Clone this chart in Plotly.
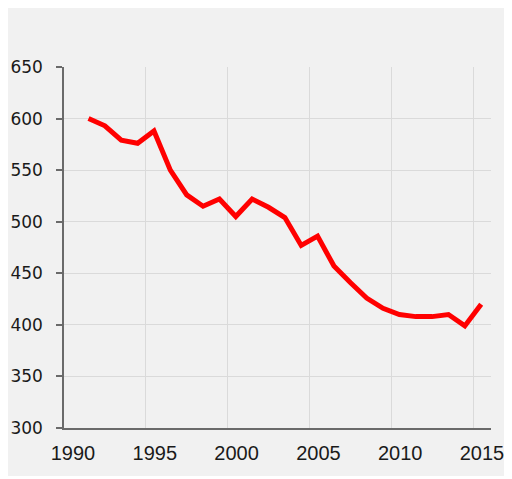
import plotly.graph_objects as go

years = list(range(1991, 2016))
values = [600, 593, 579, 576, 588, 550, 526, 515, 522, 505, 522, 514, 504, 477, 486,
          457, 441, 426, 416, 410, 408, 408, 410, 399, 420]
x_ticks = [1990, 1995, 2000, 2005, 2010, 2015]
y_ticks = [300, 350, 400, 450, 500, 550, 600, 650]

# points are drawn at mid-year positions
x_pos = [y + 0.5 for y in years]

fig = go.Figure()
fig.add_trace(go.Scatter(x=x_pos, y=values, mode="lines",
                         line=dict(color="#ff0000", width=5),
                         hoverinfo="skip", showlegend=False))

fig.update_layout(
    width=504, height=468,
    margin=dict(l=56, r=21, t=59, b=48, autoexpand=False),
    paper_bgcolor="#f1f1f1", plot_bgcolor="rgba(0,0,0,0)",
    font=dict(family="Liberation Sans, Arial, sans-serif", size=15, color="#1a1a1a"),
    xaxis=dict(range=[1990, 2016.1], tickvals=x_ticks, ticktext=[str(v) for v in x_ticks],
               tickfont=dict(family="Liberation Sans, Arial, sans-serif", size=20, color="#1a1a1a"),
               showgrid=True, gridcolor="#dadada", gridwidth=1,
               showline=True, linecolor="#6a6a6a", linewidth=1.5, automargin=False,
               ticks="", zeroline=False, ticklabelshift=9, ticklabelstandoff=6),
    yaxis=dict(range=[300, 650], tickvals=y_ticks, ticktext=[str(v) for v in y_ticks],
               tickfont=dict(family="DejaVu Sans, sans-serif", size=17, color="#1a1a1a"),
               showgrid=True, gridcolor="#dadada", gridwidth=1,
               showline=True, linecolor="#6a6a6a", linewidth=1.5, automargin=False,
               ticks="outside", ticklen=6, tickcolor="#6a6a6a", tickwidth=1.5,
               zeroline=False, ticklabelstandoff=10),
)

fig.write_html("out.html")
